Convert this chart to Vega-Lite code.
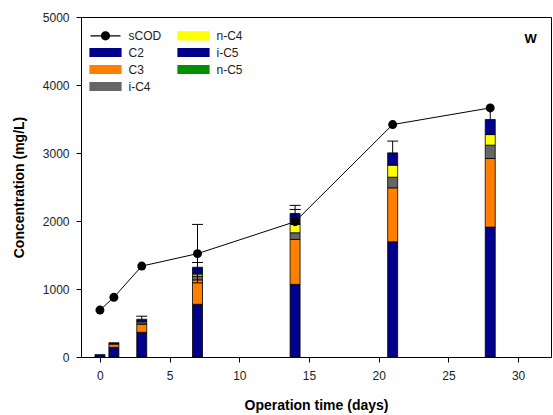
{
  "$schema": "https://vega.github.io/schema/vega-lite/v6.json",
  "width": 470,
  "height": 340,
  "autosize": {"type": "none"},
  "padding": {"left": 81, "top": 17, "right": 2, "bottom": 58},
  "background": "white",
  "config": {
    "font": "Liberation Sans",
    "view": {"stroke": "black", "strokeWidth": 1},
    "axis": {"grid": false, "domainColor": "black", "tickColor": "black", "labelColor": "#222", "titleColor": "black", "labelFontSize": 12, "titleFontSize": 14, "titleFontWeight": "bold", "tickSize": 5},
    "legend": {"symbolStrokeColor": "black", "symbolStrokeWidth": 1}
  },
  "datasets": {
    "bars": [
      {"day": 0, "acid": "C2", "k": 1, "v": 35},
      {"day": 1, "acid": "C2", "k": 1, "v": 142},
      {"day": 1, "acid": "C3", "k": 2, "v": 48},
      {"day": 1, "acid": "i-C5", "k": 5, "v": 20},
      {"day": 3, "acid": "C2", "k": 1, "v": 363},
      {"day": 3, "acid": "C3", "k": 2, "v": 118},
      {"day": 3, "acid": "i-C4", "k": 3, "v": 24},
      {"day": 3, "acid": "n-C4", "k": 4, "v": 20},
      {"day": 3, "acid": "i-C5", "k": 5, "v": 30},
      {"day": 7, "acid": "C2", "k": 1, "v": 775},
      {"day": 7, "acid": "C3", "k": 2, "v": 360},
      {"day": 7, "acid": "i-C4", "k": 3, "v": 55},
      {"day": 7, "acid": "n-C4", "k": 4, "v": 30},
      {"day": 7, "acid": "i-C5", "k": 5, "v": 100},
      {"day": 14, "acid": "C2", "k": 1, "v": 1068},
      {"day": 14, "acid": "C3", "k": 2, "v": 661},
      {"day": 14, "acid": "i-C4", "k": 3, "v": 98},
      {"day": 14, "acid": "n-C4", "k": 4, "v": 122},
      {"day": 14, "acid": "i-C5", "k": 5, "v": 162},
      {"day": 21, "acid": "C2", "k": 1, "v": 1694},
      {"day": 21, "acid": "C3", "k": 2, "v": 794},
      {"day": 21, "acid": "i-C4", "k": 3, "v": 156},
      {"day": 21, "acid": "n-C4", "k": 4, "v": 177},
      {"day": 21, "acid": "i-C5", "k": 5, "v": 181},
      {"day": 28, "acid": "C2", "k": 1, "v": 1910},
      {"day": 28, "acid": "C3", "k": 2, "v": 1009},
      {"day": 28, "acid": "i-C4", "k": 3, "v": 196},
      {"day": 28, "acid": "n-C4", "k": 4, "v": 156},
      {"day": 28, "acid": "i-C5", "k": 5, "v": 221}
    ],
    "scod": [
      {"day": 0, "v": 690},
      {"day": 1, "v": 878},
      {"day": 3, "v": 1337},
      {"day": 7, "v": 1520},
      {"day": 14, "v": 1990},
      {"day": 21, "v": 3418},
      {"day": 28, "v": 3663}
    ],
    "err": [
      {"day": 3, "lo": 555, "hi": 600},
      {"day": 7, "lo": 1090, "hi": 1950},
      {"day": 14, "lo": 1990, "hi": 2230},
      {"day": 21, "lo": 3002, "hi": 3175},
      {"day": 28, "lo": 3492, "hi": 3663}
    ],
    "caps": [
      {"day": 3, "v": 600},
      {"day": 7, "v": 1950},
      {"day": 7, "v": 1390},
      {"day": 7, "v": 1090},
      {"day": 14, "v": 2230},
      {"day": 14, "v": 2170},
      {"day": 21, "v": 3175}
    ],
    "label": [{"day": 30.9, "v": 4670, "t": "W"}]
  },
  "layer": [
    {
      "data": {"name": "bars"},
      "mark": {"type": "bar", "size": 10, "stroke": "black", "strokeWidth": 0.8},
      "encoding": {
        "x": {"field": "day", "type": "quantitative", "scale": {"domain": [-1, 32], "nice": false, "zero": false},
              "axis": {"values": [0, 5, 10, 15, 20, 25, 30], "format": "d", "title": "Operation time (days)", "labelPadding": 8, "titlePadding": 17}},
        "y": {"field": "v", "type": "quantitative", "stack": "zero", "scale": {"domain": [0, 5000], "nice": false},
              "axis": {"values": [0, 1000, 2000, 3000, 4000, 5000], "format": "d", "title": "Concentration (mg/L)", "labelPadding": 7, "titlePadding": 16}},
        "order": {"field": "k", "type": "quantitative"},
        "color": {
          "field": "acid", "type": "nominal",
          "scale": {"domain": ["sCOD", "C2", "C3", "i-C4", "n-C4", "i-C5", "n-C5"],
                    "range": ["black", "#00008b", "#ff7f00", "#666666", "#ffff00", "#00008b", "#009000"]},
          "legend": {
            "title": null, "orient": "none", "legendX": 18.5, "legendY": 12.5, "columns": 2, "direction": "vertical",
            "padding": 0, "symbolSize": 100, "labelFontSize": 12, "labelColor": "#222", "labelOffset": 17,
            "rowPadding": 3, "columnPadding": 14, "symbolStrokeColor": "black", "symbolStrokeWidth": 1, "symbolOpacity": 1,
            "encode": {"symbols": {"update": {
              "shape": {"signal": "datum.value === 'sCOD' ? 'M-3,0H3M0.8,0A0.8,0.8,0,1,1,-0.8,0A0.8,0.8,0,1,1,0.8,0Z' : 'M-3.1,-0.8H3.1V0.8H-3.1Z'"},
              "stroke": {"value": "black"},
              "strokeWidth": {"value": 1.2}
            }}}
          }
        }
      }
    },
    {
      "data": {"name": "err"},
      "mark": {"type": "rule", "color": "black", "strokeWidth": 1},
      "encoding": {
        "x": {"field": "day", "type": "quantitative"},
        "y": {"field": "lo", "type": "quantitative"},
        "y2": {"field": "hi"}
      }
    },
    {
      "data": {"name": "caps"},
      "mark": {"type": "tick", "orient": "horizontal", "size": 11, "thickness": 1, "color": "black", "opacity": 1},
      "encoding": {
        "x": {"field": "day", "type": "quantitative"},
        "y": {"field": "v", "type": "quantitative"}
      }
    },
    {
      "data": {"name": "scod"},
      "mark": {"type": "line", "strokeWidth": 1},
      "encoding": {
        "x": {"field": "day", "type": "quantitative"},
        "y": {"field": "v", "type": "quantitative"},
        "color": {"datum": "sCOD"}
      }
    },
    {
      "data": {"name": "scod"},
      "mark": {"type": "point", "filled": true, "size": 80, "opacity": 1},
      "encoding": {
        "x": {"field": "day", "type": "quantitative"},
        "y": {"field": "v", "type": "quantitative"},
        "color": {"datum": "sCOD"}
      }
    },
    {
      "data": {"name": "label"},
      "mark": {"type": "text", "fontWeight": "bold", "fontSize": 13, "color": "black"},
      "encoding": {
        "x": {"field": "day", "type": "quantitative"},
        "y": {"field": "v", "type": "quantitative"},
        "text": {"field": "t"}
      }
    }
  ]
}
